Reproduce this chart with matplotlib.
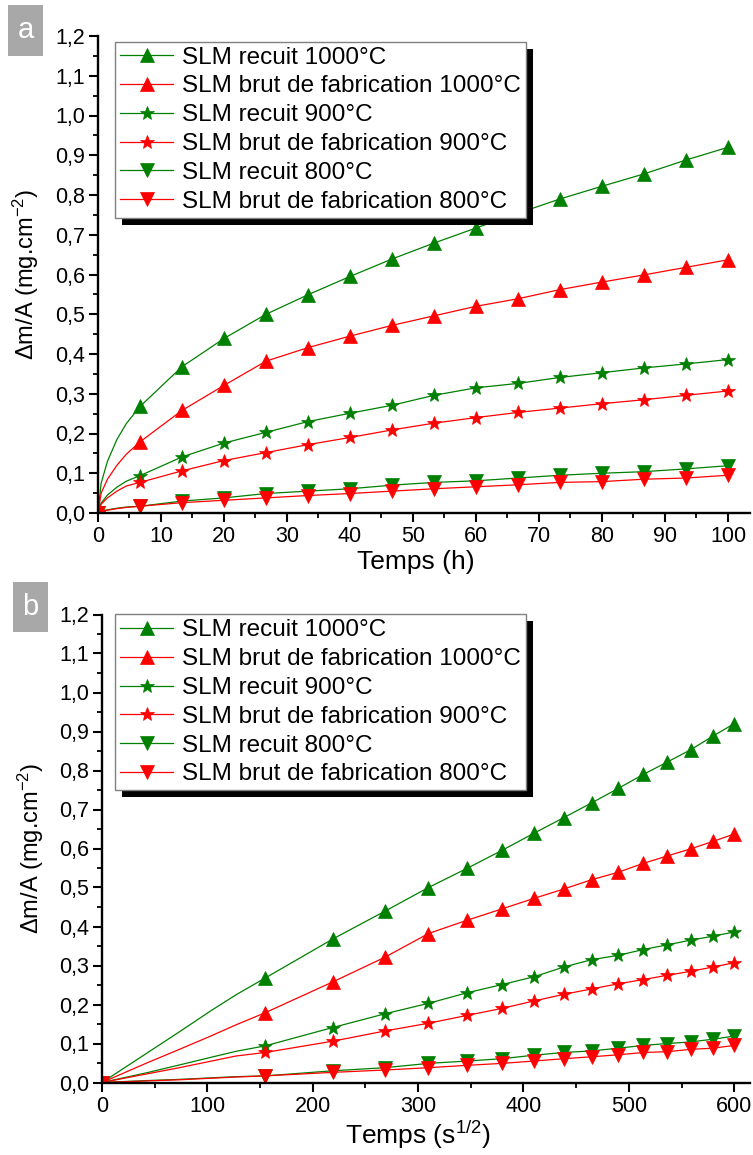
import numpy as np
import matplotlib.pyplot as plt
from matplotlib.patches import Rectangle
from matplotlib.transforms import IdentityTransform
from matplotlib.ticker import MultipleLocator, FuncFormatter

plt.rcParams['font.family'] = ['Liberation Sans', 'DejaVu Sans']
plt.rcParams['mathtext.fontset'] = 'custom'
plt.rcParams['mathtext.rm'] = 'Liberation Sans'
plt.rcParams['mathtext.it'] = 'Liberation Sans:italic'
plt.rcParams['mathtext.default'] = 'regular'

# time in hours; first points only trace the curve start, markers every 6.67 h
hours = [0, 0.5, 1.5, 3, 4.5, 6.67, 13.33, 20, 26.67, 33.33, 40, 46.67, 53.33,
         60, 66.67, 73.33, 80, 86.67, 93.33, 100]
mark_idx = [0] + list(range(5, 20))

recuit_1000 = [0, 0.075, 0.13, 0.185, 0.225, 0.268, 0.368, 0.439, 0.500, 0.549,
               0.595, 0.639, 0.679, 0.717, 0.754, 0.790, 0.822, 0.853, 0.888, 0.920]
brut_1000 = [0, 0.05, 0.085, 0.12, 0.148, 0.179, 0.258, 0.321, 0.382, 0.416,
             0.445, 0.472, 0.496, 0.520, 0.539, 0.562, 0.581, 0.599, 0.618, 0.637]
recuit_900 = [0, 0.025, 0.045, 0.065, 0.08, 0.094, 0.141, 0.176, 0.203, 0.230,
              0.251, 0.271, 0.296, 0.315, 0.326, 0.341, 0.353, 0.365, 0.375, 0.386]
brut_900 = [0, 0.022, 0.038, 0.055, 0.068, 0.077, 0.106, 0.132, 0.152, 0.172,
            0.190, 0.209, 0.226, 0.240, 0.253, 0.264, 0.275, 0.285, 0.296, 0.307]
recuit_800 = [0, 0.005, 0.008, 0.012, 0.015, 0.017, 0.030, 0.038, 0.049, 0.055,
              0.061, 0.070, 0.077, 0.081, 0.088, 0.095, 0.100, 0.104, 0.111, 0.119]
brut_800 = [0, 0.004, 0.007, 0.011, 0.014, 0.017, 0.026, 0.032, 0.038, 0.044,
            0.049, 0.055, 0.061, 0.066, 0.071, 0.077, 0.079, 0.085, 0.088, 0.095]

labels = ['SLM recuit 1000°C', 'SLM brut de fabrication 1000°C',
          'SLM recuit 900°C', 'SLM brut de fabrication 900°C',
          'SLM recuit 800°C', 'SLM brut de fabrication 800°C']
series = [recuit_1000, brut_1000, recuit_900, brut_900, recuit_800, brut_800]
colors = ['#008000', '#ff0000'] * 3
markers = ['^', '^', '*', '*', 'v', 'v']
msizes = [10, 10, 10, 10, 10, 10]

W, H = 753, 1155
fig = plt.figure(figsize=(W / 100, H / 100), dpi=100)

comma = FuncFormatter(lambda v, p: f'{v:.1f}'.replace('.', ','))
intfmt = FuncFormatter(lambda v, p: f'{v:.0f}')


def make_panel(rect, x, xmax, xmajor, xminor, xlabel, letter, box, leg_anchor):
    ax = fig.add_axes([rect[0] / W, 1 - rect[3] / H, (rect[2] - rect[0]) / W,
                       (rect[3] - rect[1]) / H])
    for yv, c, m, ms, lab in zip(series, colors, markers, msizes, labels):
        ax.plot(x, yv, color=c, lw=0.9, marker=m, ms=ms, markevery=mark_idx,
                markeredgewidth=0.5, label=lab)
    ax.set_xlim(0, xmax)
    ax.set_ylim(0, 1.2)
    for s in ['top', 'right']:
        ax.spines[s].set_visible(False)
    for s in ['left', 'bottom']:
        ax.spines[s].set_linewidth(1.7)
    ax.xaxis.set_major_locator(MultipleLocator(xmajor))
    ax.xaxis.set_minor_locator(MultipleLocator(xminor))
    ax.yaxis.set_major_locator(MultipleLocator(0.1))
    ax.yaxis.set_minor_locator(MultipleLocator(0.05))
    ax.yaxis.set_major_formatter(comma)
    ax.xaxis.set_major_formatter(intfmt)
    ax.tick_params(which='major', direction='out', length=6.5, width=1.5,
                   labelsize=15.5, pad=3)
    ax.tick_params(which='minor', direction='out', length=3.5, width=1.3)
    ax.set_xlabel(xlabel, fontsize=19)
    ax.set_ylabel('Δm/A (mg.cm$^{-2}$)', fontsize=17)
    ax.xaxis.set_label_coords(0.487, -0.077)
    ax.yaxis.set_label_coords(-0.087, 0.5)

    leg = ax.legend(loc='upper left', bbox_to_anchor=leg_anchor, fontsize=17.5,
                    frameon=True, fancybox=False, framealpha=1,
                    edgecolor='#808080', borderaxespad=0, handlelength=2.2,
                    handletextpad=0.35, labelspacing=0.28, borderpad=0.2,
                    numpoints=1)
    leg.get_frame().set_linewidth(1.0)
    leg.set_zorder(6)

    fig.patches.append(Rectangle((box[0] / W, 1 - box[3] / H),
                                 (box[2] - box[0]) / W, (box[3] - box[1]) / H,
                                 transform=fig.transFigure, facecolor='#a8a8a8',
                                 edgecolor='none'))
    fig.text((box[0] + box[2]) / 2 / W, 1 - (box[1] + box[3]) / 2 / H, letter,
             color='white', fontsize=21, ha='center', va='center')
    return ax, leg


ax_a, leg_a = make_panel((98, 36, 750, 513), hours, 103.5, 10, 5, 'Temps (h)',
                         'a', (8, 5, 43, 56), (0.026, 0.988))
x_sqrt = np.sqrt(np.array(hours) * 3600)
ax_b, leg_b = make_panel((102, 614.5, 750, 1082.5), x_sqrt, 615, 100, 50,
                         'Temps (s$^{1/2}$)', 'b', (13, 582, 48, 632),
                         (0.02, 1.0))

# black offset shadow behind each legend box
fig.canvas.draw()
for ax, leg in [(ax_a, leg_a), (ax_b, leg_b)]:
    bb = leg.get_frame().get_window_extent()
    sh = Rectangle((bb.x0 + 7, bb.y0 - 7), bb.width, bb.height,
                   transform=IdentityTransform(), facecolor='black',
                   edgecolor='none', zorder=5, clip_on=False)
    ax.add_patch(sh)

fig.savefig('out.png', dpi=100)
